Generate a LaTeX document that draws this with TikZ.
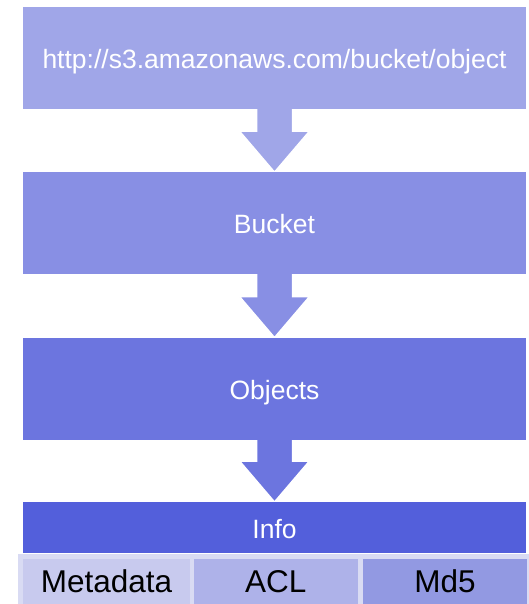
\documentclass[tikz,border=0pt]{standalone}
\usepackage{fontspec}
\setmainfont{Liberation Sans}
\usetikzlibrary{positioning,calc}
\pgfdeclarelayer{background}
\pgfsetlayers{background,main}
\definecolor{urlc}{RGB}{160,166,232}
\definecolor{bucketc}{RGB}{136,143,228}
\definecolor{objc}{RGB}{108,117,223}
\definecolor{infoc}{RGB}{83,95,219}
\definecolor{metac}{RGB}{200,202,238}
\definecolor{aclc}{RGB}{174,178,233}
\definecolor{mdc}{RGB}{146,153,226}
\definecolor{stripc}{RGB}{217,219,243}
\tikzset{
  box/.style={inner sep=0pt, minimum width=503pt, minimum height=102pt,
    text height=21pt, text depth=-2pt,
    text=white, font=\fontsize{26.5}{30}\selectfont},
  cell/.style={inner sep=0pt, minimum height=45pt, anchor=north west,
    text height=22.5pt, text depth=0pt,
    text=black, font=\fontsize{31.5}{36}\selectfont},
  blockarr/.style={draw=white, line width=1.5pt, line join=miter}
}
% block arrow from the bottom of #1 to the top of #2
\newcommand\blockarrow[3]{%
  \begin{pgfonlayer}{background}
  \filldraw[blockarr, fill=#3]
    ($(#1.south)+(-18,-2)$) -- ($(#2.north)+(-18,-41)$) -- ($(#2.north)+(-35,-41)$)
    -- (#2.north) -- ($(#2.north)+(35,-41)$) -- ($(#2.north)+(18,-41)$)
    -- ($(#1.south)+(18,-2)$) -- cycle;
  \end{pgfonlayer}}
\begin{document}
\begin{tikzpicture}[x=1pt,y=-1pt,node distance=63pt]
	\useasboundingbox (0,0) rectangle (529,604);
	\node[box, fill=urlc] (url) at (274.5,58) {http://s3.amazonaws.com/bucket/object};
	\node[box, fill=bucketc, below=of url] (bucket) {Bucket};
	\node[box, fill=objc, below=of bucket] (objects) {Objects};
	\node[box, fill=infoc, minimum height=51pt, below=62pt of objects] (info) {Info};
	\blockarrow{url}{bucket}{urlc}
	\blockarrow{bucket}{objects}{bucketc}
	\blockarrow{objects}{info}{objc}
	\fill[stripc] (18,554) rectangle (529,604);
	\node[cell, fill=metac, minimum width=166.5pt] (meta) at (23,559) {Metadata};
	\node[cell, fill=aclc, minimum width=163.5pt, right=4pt of meta.north east, anchor=north west] (acl) {ACL};
	\node[cell, fill=mdc, minimum width=164pt, right=5pt of acl.north east, anchor=north west] (md5) {Md5};
\end{tikzpicture}
\end{document}
